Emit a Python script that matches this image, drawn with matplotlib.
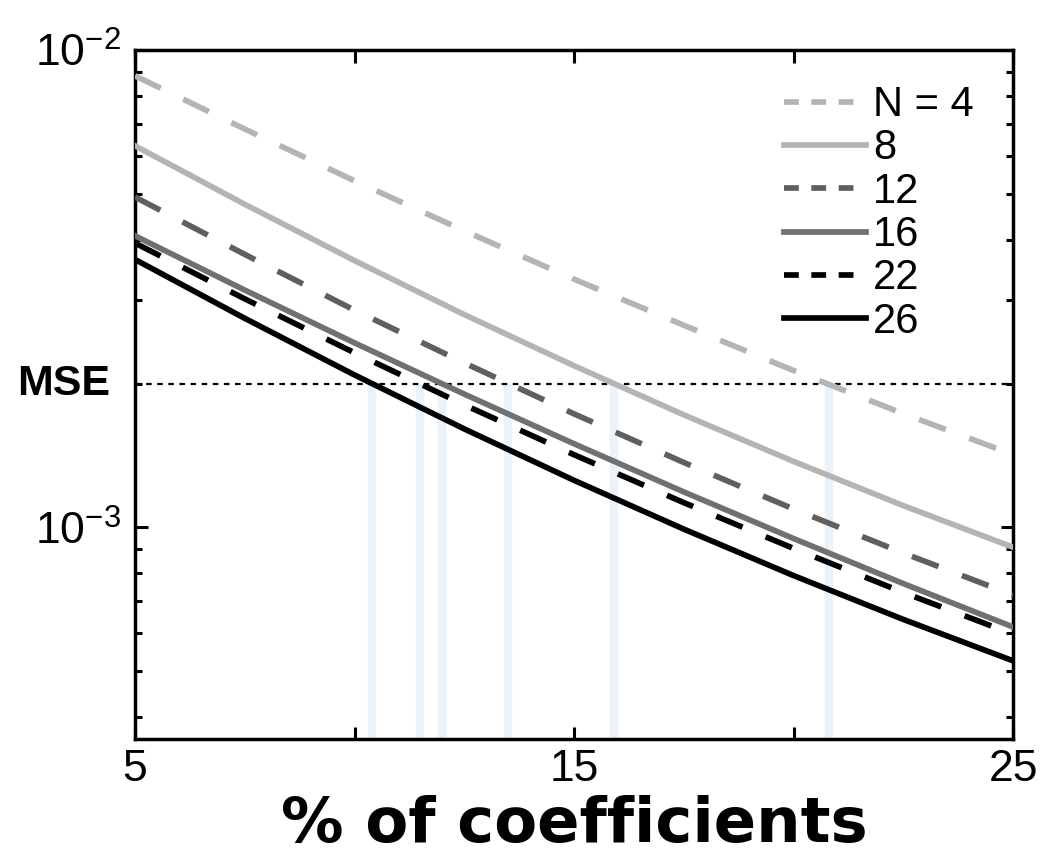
import matplotlib
matplotlib.use("Agg")
import matplotlib.pyplot as plt
from matplotlib.lines import Line2D
from matplotlib.ticker import FixedLocator, NullFormatter, LogLocator
import matplotlib.transforms as mtransforms

plt.rcParams["font.family"] = ["Liberation Sans", "DejaVu Sans"]
plt.rcParams["mathtext.fontset"] = "custom"
plt.rcParams["mathtext.rm"] = "Liberation Sans"

# percent of coefficients kept
pct = [5, 7.5, 10, 12.5, 15, 17.5, 20, 22.5, 25]

# MSE per block size N
mse_n4 = [8.83e-3, 6.83e-3, 5.32e-3, 4.18e-3, 3.31e-3, 2.65e-3, 2.13e-3, 1.73e-3, 1.42e-3]
mse_n8 = [6.30e-3, 4.75e-3, 3.62e-3, 2.79e-3, 2.18e-3, 1.72e-3, 1.374e-3, 1.11e-3, 9.08e-4]
mse_n12 = [4.92e-3, 3.73e-3, 2.85e-3, 2.21e-3, 1.728e-3, 1.367e-3, 1.092e-3, 8.83e-4, 7.21e-4]
mse_n16 = [4.08e-3, 3.14e-3, 2.434e-3, 1.901e-3, 1.496e-3, 1.186e-3, 9.47e-4, 7.62e-4, 6.18e-4]
mse_n22 = [3.94e-3, 3.01e-3, 2.32e-3, 1.805e-3, 1.419e-3, 1.126e-3, 9.03e-4, 7.30e-4, 5.97e-4]
mse_n26 = [3.64e-3, 2.74e-3, 2.085e-3, 1.607e-3, 1.254e-3, 9.91e-4, 7.92e-4, 6.41e-4, 5.25e-4]

labels = ["N = 4", "8", "12", "16", "22", "26"]

# target MSE and where each curve crosses it
mse_target = 2e-3
crossings = [10.4, 11.5, 12.0, 13.5, 15.9, 20.8]

series = [mse_n4, mse_n8, mse_n12, mse_n16, mse_n22, mse_n26]
colors = ["#b4b4b4", "#b4b4b4", "#5f5f5f", "#707070", "#000000", "#000000"]
dashed = [True, False, True, False, True, False]

fig = plt.figure(figsize=(10.5, 8.61), dpi=100)
ax = fig.add_axes([0.1286, 0.1417, 0.8362, 0.8002])

ax.vlines(crossings, 3.6e-4, mse_target, colors="#ebf3fa", linewidth=6, zorder=1)
ax.axhline(mse_target, color="black", linewidth=1.6, linestyle=(0, (2.5, 2.5)), zorder=2)

handles = []
for y, c, d in zip(series, colors, dashed):
    ls = (0, (5, 4.4)) if d else "-"
    ax.plot(pct, y, color=c, linewidth=4.1, linestyle=ls, zorder=3)
    # legend swatches use shorter dashes, like the original
    handles.append(Line2D([], [], color=c, linewidth=4.1,
                          linestyle=(0, (2.6, 2.2)) if d else "-"))

ax.set_yscale("log")
ax.set_xlim(5, 25)
ax.set_ylim(3.6e-4, 1e-2)

ax.xaxis.set_major_locator(FixedLocator([5, 10, 15, 20, 25]))
ax.set_xticklabels(["5", "", "15", "", "25"])
ax.yaxis.set_major_locator(FixedLocator([1e-3, 1e-2]))
ax.set_yticklabels([r"$\mathregular{10^{-3}}$", r"$\mathregular{10^{-2}}$"])
ax.yaxis.set_minor_locator(LogLocator(base=10, subs=range(2, 10)))
ax.yaxis.set_minor_formatter(NullFormatter())

ax.tick_params(which="both", direction="in", top=True, right=True, width=2.2)
ax.tick_params(which="major", length=9, labelsize=32, pad=10)
ax.tick_params(axis="x", which="major", pad=7)
ax.tick_params(which="minor", length=5)
for s in ax.spines.values():
    s.set_linewidth(2.5)

ax.set_xlabel("% of coefficients", fontsize=45, fontweight="bold",
              family="DejaVu Sans", va="top")
ax.xaxis.set_label_coords(0.5, -0.081)
trans = mtransforms.blended_transform_factory(ax.transAxes, ax.transData)
ax.text(-0.028, mse_target, "MSE", transform=trans, ha="right", va="center",
        fontsize=31, fontweight="bold")

ax.legend(handles, labels, loc="upper right", frameon=False, fontsize=30,
          handlelength=1.95, handletextpad=0.17, labelspacing=0.08,
          borderpad=0.0, borderaxespad=0.0, bbox_to_anchor=(0.955, 0.949))

fig.savefig("out.png", dpi=100)
